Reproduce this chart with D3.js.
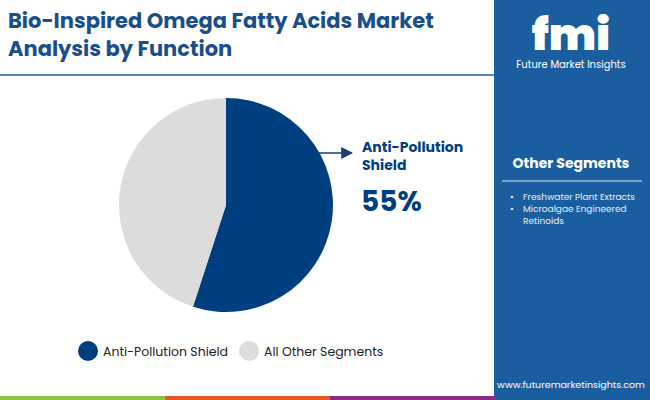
<!DOCTYPE html><html><head><meta charset="utf-8">
<script src="https://d3js.org/d3.v7.min.js"></script>
<style>body{margin:0}svg{font-family:Poppins,Roboto,sans-serif}</style></head><body>
<svg id="c" width="650" height="400"></svg>
<script>
const categories=["Anti-Pollution Shield","All Other Segments"];
const values=[55,45];
const colors=["#003f7f","#dcdcdc"];
const otherSegments=["Freshwater Plant Extracts","Microalgae Engineered","Retinoids"];
const svg=d3.select("#c");
svg.append("rect").attr("width",650).attr("height",400).attr("fill","#fff");
svg.append("text").attr("x",8).attr("y",28).attr("font-size",21).attr("font-weight",700).attr("fill","#1a4f8b").text("Bio-Inspired Omega Fatty Acids Market");
svg.append("text").attr("x",8).attr("y",56).attr("font-size",21).attr("font-weight",700).attr("fill","#1a4f8b").text("Analysis by Function");
svg.append("line").attr("x1",0).attr("x2",494).attr("y1",75).attr("y2",75).attr("stroke","#1d5fa0").attr("stroke-width",1.5);
svg.append("rect").attr("x",494).attr("y",0).attr("width",156).attr("height",400).attr("fill","#1b5e9f");
svg.append("text").attr("x",571).attr("y",50).attr("text-anchor","middle").attr("font-size",44).attr("font-weight",900).attr("fill","#fff").text("fmi");
svg.append("text").attr("x",571).attr("y",68).attr("text-anchor","middle").attr("font-size",10).attr("fill","#fff").text("Future Market Insights");
svg.append("text").attr("x",571).attr("y",168).attr("text-anchor","middle").attr("font-size",14).attr("font-weight",700).attr("fill","#fff").text("Other Segments");
svg.append("line").attr("x1",502).attr("x2",642).attr("y1",181).attr("y2",181).attr("stroke","#9dbbd9").attr("stroke-width",1.5);
otherSegments.forEach((s,i)=>{
 const y=200+i*12;
 if(i<2) svg.append("text").attr("x",510).attr("y",y).attr("font-size",9).attr("fill","#fff").text("•");
 svg.append("text").attr("x",523).attr("y",y).attr("font-size",9).attr("fill","#e6eef7").text(s);
});
svg.append("text").attr("x",571).attr("y",388).attr("text-anchor","middle").attr("font-size",9.5).attr("fill","#fff").text("www.futuremarketinsights.com");
["#8bc53f","#e8572a","#8b2c86"].forEach((c,i)=>svg.append("rect").attr("x",i*165).attr("y",396).attr("width",165).attr("height",4).attr("fill",c));
const pie=d3.pie().sort(null)(values);
const arc=d3.arc().innerRadius(0).outerRadius(107);
svg.append("g").attr("transform","translate(226,205)").selectAll("path").data(pie).join("path").attr("d",arc).attr("fill",(d,i)=>colors[i]);
svg.append("defs").append("marker").attr("id","ah").attr("viewBox","0 0 10 10").attr("refX",9).attr("refY",5).attr("markerWidth",8).attr("markerHeight",8).attr("orient","auto").append("path").attr("d","M0,0L10,5L0,10z").attr("fill","#1a3f6f");
svg.append("line").attr("x1",318).attr("x2",352).attr("y1",153).attr("y2",153).attr("stroke","#1a3f6f").attr("stroke-width",1.5).attr("marker-end","url(#ah)");
svg.append("text").attr("x",362).attr("y",152).attr("font-size",14).attr("font-weight",700).attr("fill","#003f7f").text("Anti-Pollution");
svg.append("text").attr("x",362).attr("y",170).attr("font-size",14).attr("font-weight",700).attr("fill","#003f7f").text("Shield");
svg.append("text").attr("x",361).attr("y",211).attr("font-size",28).attr("font-weight",700).attr("fill","#003f7f").text(values[0]+"%");
const lx=[88,249];
categories.forEach((c,i)=>{
 svg.append("circle").attr("cx",lx[i]).attr("cy",351).attr("r",10).attr("fill",colors[i]);
 svg.append("text").attr("x",lx[i]+15).attr("y",356).attr("font-size",12.5).attr("fill","#222").text(c);
});
</script></body></html>
